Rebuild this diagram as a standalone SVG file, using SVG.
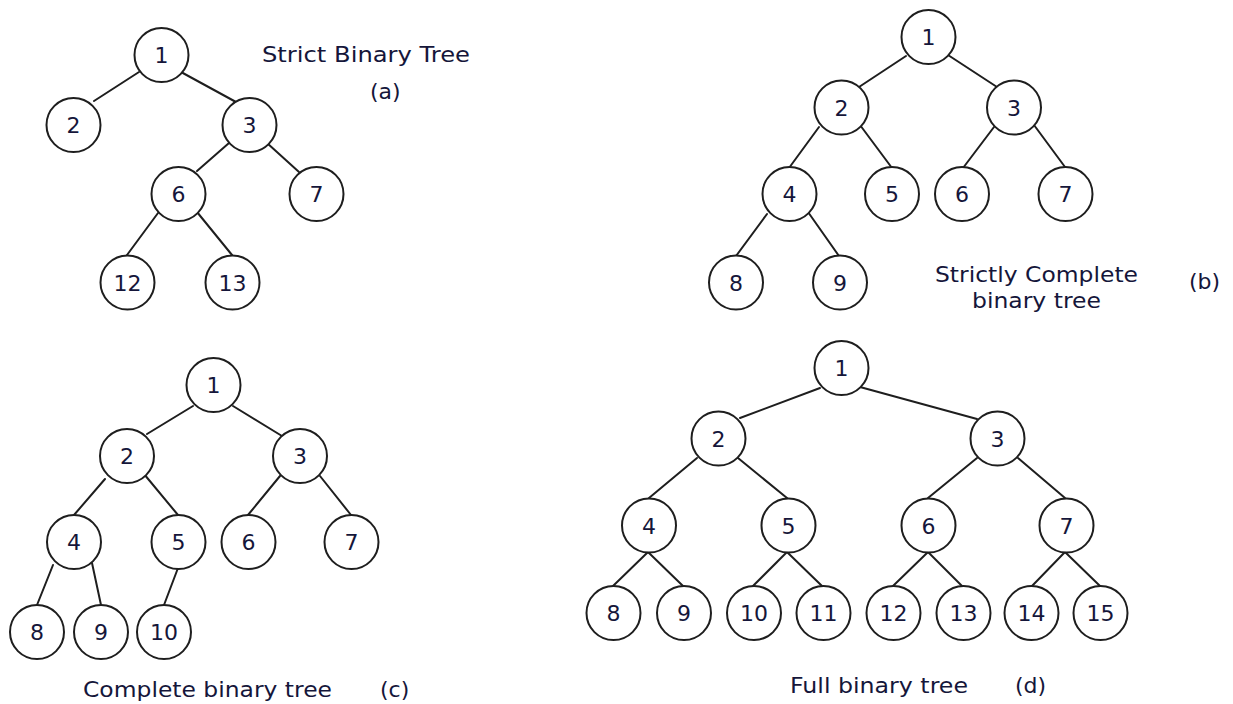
<svg xmlns="http://www.w3.org/2000/svg" width="1233" height="704" viewBox="0 0 1233 704">
  <style>
    .node circle { fill: #ffffff; stroke: #1e1e1e; stroke-width: 2; }
    .node text, .label { font-family: "DejaVu Sans", Verdana, sans-serif; font-size: 22px; fill: #15163a; }
    .node text { text-anchor: middle; }
    .edges line { stroke: #1e1e1e; stroke-width: 2; stroke-linecap: round; }
  </style>
  <rect width="1233" height="704" fill="#ffffff"/>

  <!-- Tree (a): strict binary tree -->
  <g id="tree-a">
    <g class="edges">
      <line x1="139" y1="72" x2="94" y2="101"/>
      <line x1="181" y1="72" x2="236" y2="102"/>
      <line x1="229" y1="143" x2="197" y2="171"/>
      <line x1="267" y1="143" x2="299" y2="172"/>
      <line x1="158" y1="213" x2="127" y2="255"/>
      <line x1="197" y1="212" x2="232" y2="255"/>
    </g>
    <g id="a1" class="node"><circle cx="161.5" cy="55" r="27"/><text x="161.5" y="63">1</text></g>
    <g id="a2" class="node"><circle cx="73.5" cy="125" r="27"/><text x="73.5" y="133">2</text></g>
    <g id="a3" class="node"><circle cx="249.5" cy="125" r="27"/><text x="249.5" y="133">3</text></g>
    <g id="a6" class="node"><circle cx="178.5" cy="194" r="27"/><text x="178.5" y="202">6</text></g>
    <g id="a7" class="node"><circle cx="316.5" cy="194" r="27"/><text x="316.5" y="202">7</text></g>
    <g id="a12" class="node"><circle cx="127.5" cy="282.5" r="27"/><text x="127.5" y="290.5">12</text></g>
    <g id="a13" class="node"><circle cx="232.5" cy="282.5" r="27"/><text x="232.5" y="290.5">13</text></g>
    <text class="label" x="262" y="62" textLength="208" lengthAdjust="spacingAndGlyphs">Strict Binary Tree</text>
    <text class="label" x="370" y="99">(a)</text>
  </g>

  <!-- Tree (b): strictly complete binary tree -->
  <g id="tree-b">
    <g class="edges">
      <line x1="906" y1="56" x2="859" y2="87"/>
      <line x1="948" y1="55" x2="997" y2="87"/>
      <line x1="819" y1="127" x2="789" y2="168"/>
      <line x1="860" y1="125" x2="892" y2="168"/>
      <line x1="994" y1="127" x2="963" y2="168"/>
      <line x1="1034" y1="125" x2="1065" y2="167"/>
      <line x1="767" y1="214" x2="736" y2="256"/>
      <line x1="808" y1="212" x2="839" y2="256"/>
    </g>
    <g id="b1" class="node"><circle cx="928.5" cy="37" r="27"/><text x="928.5" y="45">1</text></g>
    <g id="b2" class="node"><circle cx="841.5" cy="107.5" r="27"/><text x="841.5" y="115.5">2</text></g>
    <g id="b3" class="node"><circle cx="1014" cy="107.5" r="27"/><text x="1014" y="115.5">3</text></g>
    <g id="b4" class="node"><circle cx="789.5" cy="194" r="27"/><text x="789.5" y="202">4</text></g>
    <g id="b5" class="node"><circle cx="892" cy="194" r="27"/><text x="892" y="202">5</text></g>
    <g id="b6" class="node"><circle cx="962" cy="194" r="27"/><text x="962" y="202">6</text></g>
    <g id="b7" class="node"><circle cx="1065.5" cy="194" r="27"/><text x="1065.5" y="202">7</text></g>
    <g id="b8" class="node"><circle cx="736" cy="282.5" r="27"/><text x="736" y="290.5">8</text></g>
    <g id="b9" class="node"><circle cx="840" cy="282.5" r="27"/><text x="840" y="290.5">9</text></g>
    <text class="label" x="935" y="282" textLength="203" lengthAdjust="spacingAndGlyphs">Strictly Complete</text>
    <text class="label" x="972" y="308" textLength="129" lengthAdjust="spacingAndGlyphs">binary tree</text>
    <text class="label" x="1189" y="289">(b)</text>
  </g>

  <!-- Tree (c): complete binary tree -->
  <g id="tree-c">
    <g class="edges">
      <line x1="193" y1="406" x2="147" y2="434"/>
      <line x1="233" y1="406" x2="282" y2="436"/>
      <line x1="105" y1="479" x2="74" y2="515"/>
      <line x1="144" y1="474" x2="178" y2="515"/>
      <line x1="280" y1="476" x2="248" y2="515"/>
      <line x1="320" y1="476" x2="351" y2="515"/>
      <line x1="53" y1="565" x2="37" y2="605"/>
      <line x1="92" y1="563" x2="101" y2="605"/>
      <line x1="178" y1="568" x2="164" y2="605"/>
    </g>
    <g id="c1" class="node"><circle cx="213.5" cy="385" r="27"/><text x="213.5" y="393">1</text></g>
    <g id="c2" class="node"><circle cx="127" cy="456" r="27"/><text x="127" y="464">2</text></g>
    <g id="c3" class="node"><circle cx="300" cy="456" r="27"/><text x="300" y="464">3</text></g>
    <g id="c4" class="node"><circle cx="74" cy="542" r="27"/><text x="74" y="550">4</text></g>
    <g id="c5" class="node"><circle cx="178.5" cy="542" r="27"/><text x="178.5" y="550">5</text></g>
    <g id="c6" class="node"><circle cx="248.5" cy="542" r="27"/><text x="248.5" y="550">6</text></g>
    <g id="c7" class="node"><circle cx="351.5" cy="542" r="27"/><text x="351.5" y="550">7</text></g>
    <g id="c8" class="node"><circle cx="37" cy="632" r="27"/><text x="37" y="640">8</text></g>
    <g id="c9" class="node"><circle cx="101" cy="632" r="27"/><text x="101" y="640">9</text></g>
    <g id="c10" class="node"><circle cx="164" cy="632" r="27"/><text x="164" y="640">10</text></g>
    <text class="label" x="83" y="697" textLength="249" lengthAdjust="spacingAndGlyphs">Complete binary tree</text>
    <text class="label" x="380" y="697">(c)</text>
  </g>

  <!-- Tree (d): full binary tree -->
  <g id="tree-d">
    <g class="edges">
      <line x1="820" y1="388" x2="740" y2="418"/>
      <line x1="860" y1="387" x2="977" y2="419"/>
      <line x1="697" y1="458" x2="649" y2="498"/>
      <line x1="738" y1="458" x2="787" y2="498"/>
      <line x1="977" y1="458" x2="928" y2="498"/>
      <line x1="1018" y1="458" x2="1065" y2="498"/>
      <line x1="648" y1="552" x2="613" y2="586"/>
      <line x1="648" y1="552" x2="683" y2="586"/>
      <line x1="787" y1="552" x2="753" y2="586"/>
      <line x1="787" y1="552" x2="822" y2="586"/>
      <line x1="928" y1="552" x2="893" y2="586"/>
      <line x1="928" y1="552" x2="962" y2="586"/>
      <line x1="1065" y1="552" x2="1032" y2="586"/>
      <line x1="1065" y1="552" x2="1100" y2="586"/>
    </g>
    <g id="d1" class="node"><circle cx="841.5" cy="368" r="27"/><text x="841.5" y="376">1</text></g>
    <g id="d2" class="node"><circle cx="718.5" cy="438.5" r="27"/><text x="718.5" y="446.5">2</text></g>
    <g id="d3" class="node"><circle cx="997.5" cy="438.5" r="27"/><text x="997.5" y="446.5">3</text></g>
    <g id="d4" class="node"><circle cx="649" cy="525.5" r="27"/><text x="649" y="533.5">4</text></g>
    <g id="d5" class="node"><circle cx="788.5" cy="525.5" r="27"/><text x="788.5" y="533.5">5</text></g>
    <g id="d6" class="node"><circle cx="928.5" cy="525.5" r="27"/><text x="928.5" y="533.5">6</text></g>
    <g id="d7" class="node"><circle cx="1066.5" cy="525.5" r="27"/><text x="1066.5" y="533.5">7</text></g>
    <g id="d8" class="node"><circle cx="613.5" cy="613" r="27"/><text x="613.5" y="621">8</text></g>
    <g id="d9" class="node"><circle cx="684" cy="613" r="27"/><text x="684" y="621">9</text></g>
    <g id="d10" class="node"><circle cx="754" cy="613" r="27"/><text x="754" y="621">10</text></g>
    <g id="d11" class="node"><circle cx="823.5" cy="613" r="27"/><text x="823.5" y="621">11</text></g>
    <g id="d12" class="node"><circle cx="893.5" cy="613" r="27"/><text x="893.5" y="621">12</text></g>
    <g id="d13" class="node"><circle cx="963.5" cy="613" r="27"/><text x="963.5" y="621">13</text></g>
    <g id="d14" class="node"><circle cx="1031.5" cy="613" r="27"/><text x="1031.5" y="621">14</text></g>
    <g id="d15" class="node"><circle cx="1100.5" cy="613" r="27"/><text x="1100.5" y="621">15</text></g>
    <text class="label" x="790" y="693" textLength="178" lengthAdjust="spacingAndGlyphs">Full binary tree</text>
    <text class="label" x="1015" y="693">(d)</text>
  </g>
</svg>
